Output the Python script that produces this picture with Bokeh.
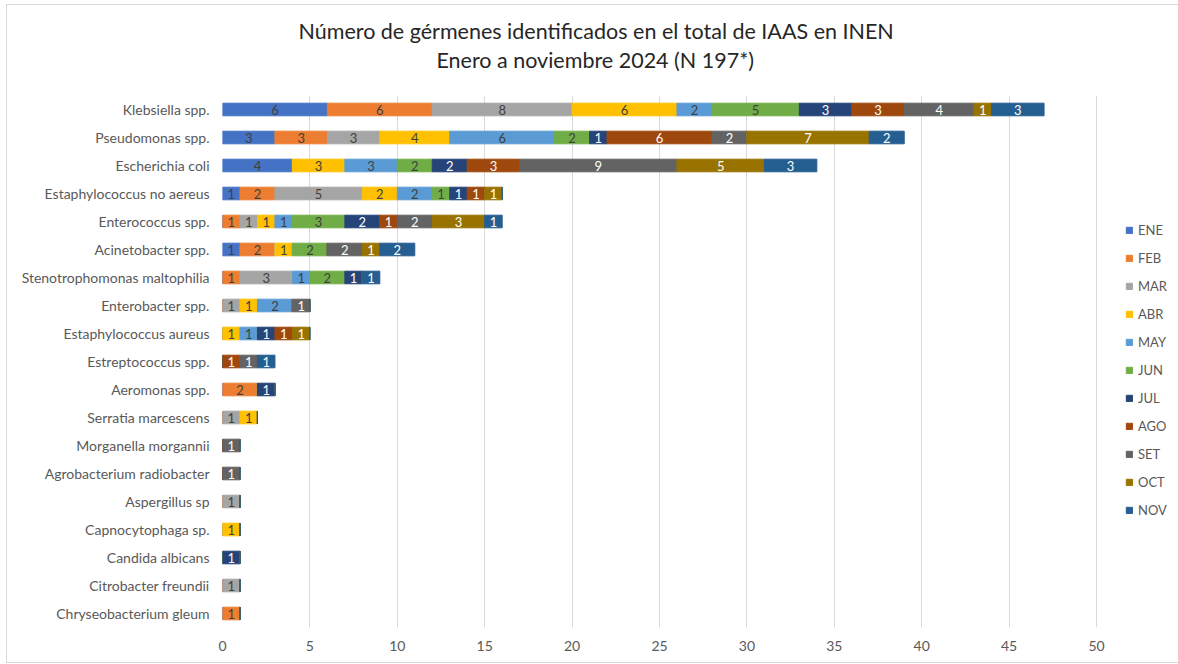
from bokeh.plotting import figure
from bokeh.models import (ColumnDataSource, Legend, LegendItem, Title, FactorRange,
                          FixedTicker)
from bokeh.embed import file_html
from bokeh.resources import INLINE
from bokeh.core.properties import value

categories = [
    "Klebsiella spp.", "Pseudomonas spp.", "Escherichia coli", "Estaphylococcus no aereus",
    "Enterococcus spp.", "Acinetobacter spp.", "Stenotrophomonas maltophilia", "Enterobacter spp.",
    "Estaphylococcus aureus", "Estreptococcus spp.", "Aeromonas spp.", "Serratia marcescens",
    "Morganella morgannii", "Agrobacterium radiobacter", "Aspergillus sp", "Capnocytophaga sp.",
    "Candida albicans", "Citrobacter freundii", "Chryseobacterium gleum",
]
months = ["ENE", "FEB", "MAR", "ABR", "MAY", "JUN", "JUL", "AGO", "SET", "OCT", "NOV"]

ENE = [6, 3, 4, 1, 0, 1, 0, 0, 0, 0, 0, 0, 0, 0, 0, 0, 0, 0, 0]
FEB = [6, 3, 0, 2, 1, 2, 1, 0, 0, 0, 2, 0, 0, 0, 0, 0, 0, 0, 1]
MAR = [8, 3, 0, 5, 1, 0, 3, 1, 0, 0, 0, 1, 0, 0, 1, 0, 0, 1, 0]
ABR = [6, 4, 3, 2, 1, 1, 0, 1, 1, 0, 0, 1, 0, 0, 0, 1, 0, 0, 0]
MAY = [2, 6, 3, 2, 1, 0, 1, 2, 1, 0, 0, 0, 0, 0, 0, 0, 0, 0, 0]
JUN = [5, 2, 2, 1, 3, 2, 2, 0, 0, 0, 0, 0, 0, 0, 0, 0, 0, 0, 0]
JUL = [3, 1, 2, 1, 2, 0, 1, 0, 1, 0, 1, 0, 0, 0, 0, 0, 1, 0, 0]
AGO = [3, 6, 3, 1, 1, 0, 0, 0, 1, 1, 0, 0, 0, 0, 0, 0, 0, 0, 0]
SET = [4, 2, 9, 0, 2, 2, 0, 1, 0, 1, 0, 0, 1, 1, 0, 0, 0, 0, 0]
OCT = [1, 7, 5, 1, 3, 1, 0, 0, 1, 0, 0, 0, 0, 0, 0, 0, 0, 0, 0]
NOV = [3, 2, 3, 0, 1, 2, 1, 0, 0, 1, 0, 0, 0, 0, 0, 0, 0, 0, 0]

series = [ENE, FEB, MAR, ABR, MAY, JUN, JUL, AGO, SET, OCT, NOV]
colors = ["#4472C4", "#ED7D31", "#A5A5A5", "#FFC000", "#5B9BD5", "#70AD47",
          "#264478", "#9E480E", "#636363", "#997300", "#255E91"]
label_colors = ["#404040"] * 6 + ["#FFFFFF"] * 5

x_ticks = [0, 5, 10, 15, 20, 25, 30, 35, 40, 45, 50]

title_line1 = "Número de gérmenes identificados en el total de IAAS en INEN"
title_line2 = "Enero a noviembre 2024 (N 197*)"

FONT = "Lato"

# layout: axis 0..50 occupies 874 px; the frame is extended to the right to host the legend
AXIS_PX = 874
FRAME_W = 956
x_end = x_ticks[-1] * FRAME_W / AXIS_PX

data = {"cat": categories}
for m, s in zip(months, series):
    data[m] = s
source = ColumnDataSource(data)

p = figure(
    frame_width=FRAME_W, frame_height=532,
    y_range=FactorRange(*reversed(categories), range_padding=0),
    x_range=(0, x_end),
    output_backend="svg", toolbar_location=None,
    min_border_left=215, min_border_right=0, min_border_top=90, min_border_bottom=35,
    background_fill_color="white", border_fill_color="white",
)
p.styles = {
    "margin-left": "6px", "margin-top": "4px",
    "border-top": "1px solid #D9D9D9", "border-left": "1px solid #D9D9D9",
    "border-bottom": "1px solid #D9D9D9",
}
p.outline_line_color = None

renderers = p.hbar_stack(months, y="cat", height=0.45, color=colors, source=source)

# segment labels
lx, ly, lt, lc = [], [], [], []
for i, c in enumerate(categories):
    left = 0
    for j, s in enumerate(series):
        v = s[i]
        if v > 0:
            lx.append(left + v / 2)
            ly.append(c)
            lt.append(str(v))
            lc.append(label_colors[j])
        left += v
lsrc = ColumnDataSource(dict(x=lx, y=ly, t=lt, c=lc))
p.text(x="x", y="y", text="t", source=lsrc, text_color="c", text_align="center",
       text_baseline="middle", text_font=value(FONT), text_font_size="13px")

# axes
for ax in (p.xaxis, p.yaxis):
    ax.axis_line_color = None
    ax.major_tick_line_color = None
    ax.minor_tick_line_color = None
    ax.major_tick_out = 0
    ax.minor_tick_out = 0
    ax.major_label_text_font = FONT
    ax.major_label_text_font_size = "14px"
    ax.major_label_text_color = "#595959"
p.xaxis.ticker = FixedTicker(ticks=x_ticks)
p.xaxis.major_label_standoff = 13
p.yaxis.major_label_standoff = 13

p.xgrid.grid_line_color = "#D9D9D9"
p.xgrid.grid_line_width = 1
p.ygrid.grid_line_color = None

legend = Legend(
    items=[LegendItem(label=m, renderers=[r]) for m, r in zip(months, renderers)],
    location=(903, 107), orientation="vertical",
    margin=0, padding=0, spacing=8, label_height=20, glyph_height=8, glyph_width=8,
    label_standoff=5, label_text_font=FONT, label_text_font_size="13px",
    label_text_color="#595959", border_line_color=None, background_fill_alpha=0,
)
p.add_layout(legend, "center")

# spacer between plot area and the title lines
spacer = Title(text=" ", text_font_size="1px", text_color="white", standoff=18)
t2 = Title(text=title_line2, align="left", offset=214,
           text_font=FONT, text_font_size="21.5px", text_font_style="normal",
           text_color="#262626", standoff=3)
t1 = Title(text=title_line1, align="left", offset=76,
           text_font=FONT, text_font_size="21.5px", text_font_style="normal",
           text_color="#262626", standoff=0)
p.add_layout(spacer, "above")
p.add_layout(t2, "above")
p.add_layout(t1, "above")

open("out.html", "w").write(file_html(p, INLINE))
